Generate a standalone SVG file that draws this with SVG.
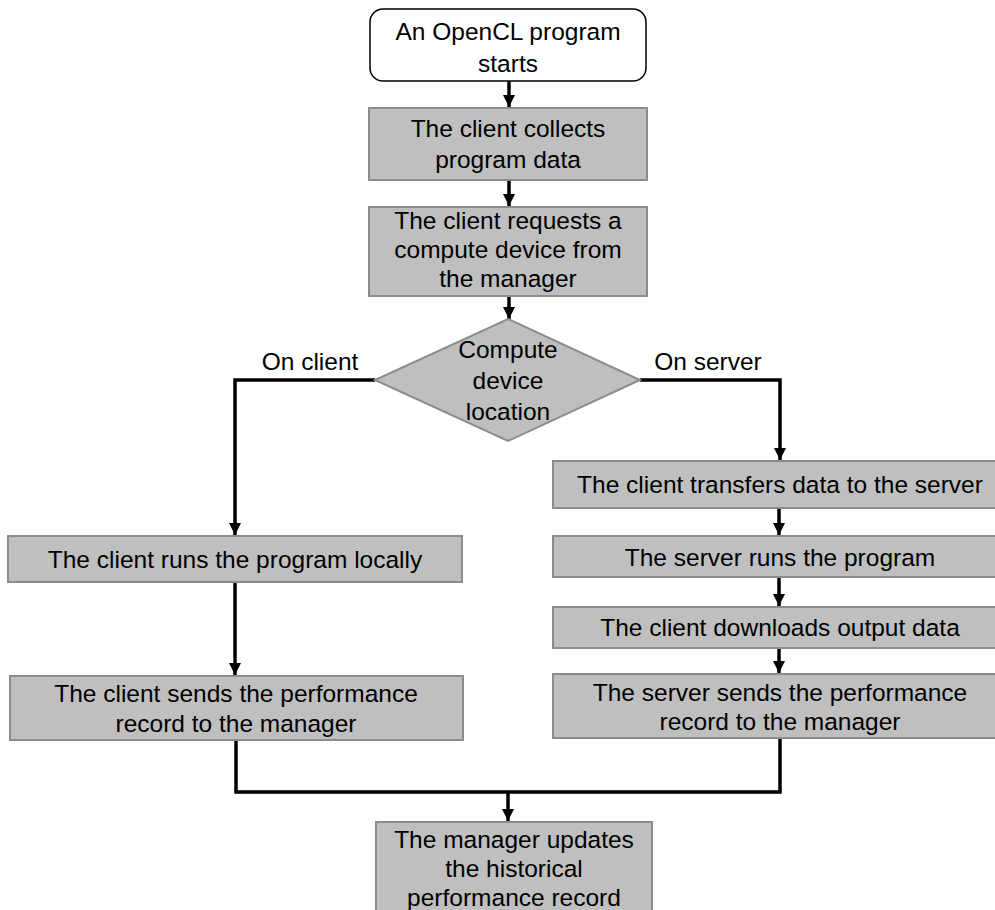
<svg xmlns="http://www.w3.org/2000/svg" width="995" height="910" viewBox="0 0 995 910">
<style>
  text { font-family: "Liberation Sans", Arial, sans-serif; font-size: 24.5px; fill: #000; text-anchor: middle; }
  .box { fill: #bfbfbf; stroke: #8c8c8c; stroke-width: 2; }
  .start { fill: #fff; stroke: #000; stroke-width: 1.5; }
  .conn { fill: none; stroke: #000; stroke-width: 3.5; }
</style>
<defs>
  <marker id="arr" markerUnits="userSpaceOnUse" markerWidth="12" markerHeight="12" viewBox="0 0 12 12" refX="12" refY="6" orient="auto">
    <path d="M0,0 L12,6 L0,12 z" fill="#000"/>
  </marker>
</defs>
<rect width="995" height="910" fill="#fff"/>

<g id="connectors">
  <path class="conn" d="M509,81 V107" marker-end="url(#arr)"/>
  <path class="conn" d="M509,180 V206" marker-end="url(#arr)"/>
  <path class="conn" d="M509,296 V319" marker-end="url(#arr)"/>
  <path class="conn" d="M375,380 H235 V535" marker-end="url(#arr)"/>
  <path class="conn" d="M640,380 H780 V460" marker-end="url(#arr)"/>
  <path class="conn" d="M779,508 V535" marker-end="url(#arr)"/>
  <path class="conn" d="M779,577 V606" marker-end="url(#arr)"/>
  <path class="conn" d="M779,648 V673" marker-end="url(#arr)"/>
  <path class="conn" d="M235,582 V675" marker-end="url(#arr)"/>
  <path class="conn" d="M236,740 V792 H780 V738"/>
  <path class="conn" d="M508,792 V821" marker-end="url(#arr)"/>
</g>

<g id="start">
  <rect class="start" x="370" y="9" width="276" height="72" rx="13"/>
  <text x="508" y="40">An OpenCL program</text>
  <text x="508" y="72">starts</text>
</g>
<g id="collect">
  <rect class="box" x="369" y="108" width="278" height="72"/>
  <text x="508" y="137">The client collects</text>
  <text x="508" y="168">program data</text>
</g>
<g id="request">
  <rect class="box" x="369" y="207" width="278" height="89"/>
  <text x="508" y="229">The client requests a</text>
  <text x="508" y="258">compute device from</text>
  <text x="508" y="287">the manager</text>
</g>
<g id="decision">
  <polygon class="box" points="508,319 640,380 508,441 375,380"/>
  <text x="508" y="358">Compute</text>
  <text x="508" y="389">device</text>
  <text x="508" y="420">location</text>
</g>
<g id="label-client">
  <text x="310" y="370">On client</text>
</g>
<g id="label-server">
  <text x="708" y="370">On server</text>
</g>
<g id="local-run">
  <rect class="box" x="8" y="536" width="454" height="46"/>
  <text x="235" y="568">The client runs the program locally</text>
</g>
<g id="client-send">
  <rect class="box" x="10" y="676" width="453" height="64"/>
  <text x="236" y="702">The client sends the performance</text>
  <text x="236" y="732">record to the manager</text>
</g>
<g id="transfer">
  <rect class="box" x="553" y="461" width="454" height="47"/>
  <text x="780" y="493">The client transfers data to the server</text>
</g>
<g id="server-run">
  <rect class="box" x="553" y="536" width="454" height="41"/>
  <text x="780" y="566">The server runs the program</text>
</g>
<g id="download">
  <rect class="box" x="553" y="607" width="454" height="41"/>
  <text x="780" y="636">The client downloads output data</text>
</g>
<g id="server-send">
  <rect class="box" x="553" y="674" width="454" height="64"/>
  <text x="780" y="701">The server sends the performance</text>
  <text x="780" y="730">record to the manager</text>
</g>
<g id="update">
  <rect class="box" x="376" y="822" width="276" height="100"/>
  <text x="514" y="848">The manager updates</text>
  <text x="514" y="877">the historical</text>
  <text x="514" y="906">performance record</text>
</g>
</svg>
